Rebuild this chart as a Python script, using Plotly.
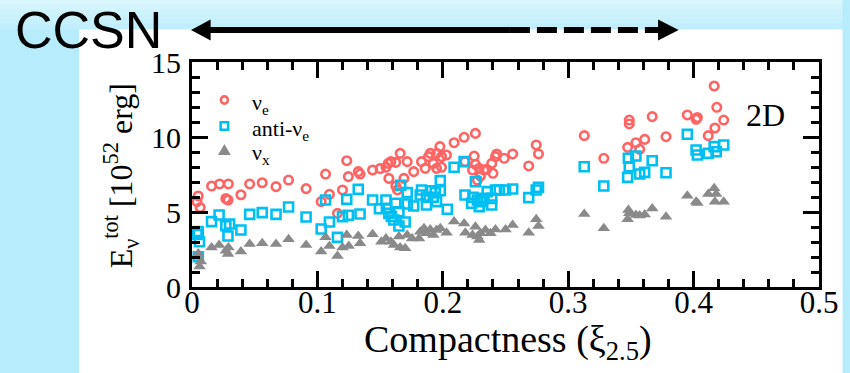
import plotly.graph_objects as go

# ---------------- data ----------------
ve_xi = [0.005, 0.004, 0.0065, 0.0156, 0.022, 0.029, 0.027, 0.0287, 0.039, 0.046,
         0.056, 0.067, 0.077, 0.091, 0.103, 0.1065, 0.1096, 0.116, 0.12, 0.1234,
         0.1247, 0.1326, 0.134, 0.144, 0.150, 0.1547, 0.1565, 0.1586, 0.1625, 0.166,
         0.1716, 0.1768, 0.157, 0.1625, 0.1638, 0.169, 0.183, 0.186, 0.1886, 0.19,
         0.1924, 0.195, 0.1977, 0.199, 0.2029, 0.195, 0.199, 0.209, 0.217, 0.226,
         0.2177, 0.225, 0.226, 0.2237, 0.229, 0.2276, 0.230, 0.2328, 0.235, 0.239,
         0.240, 0.242, 0.243, 0.249, 0.2557, 0.2685, 0.2745, 0.2763, 0.3128, 0.3284,
         0.3474, 0.3487, 0.3487, 0.354, 0.357, 0.361, 0.367, 0.378, 0.395, 0.402,
         0.403, 0.4117, 0.4164, 0.417, 0.4185, 0.424]
ve_E = [6.07, 5.69, 5.3, 6.73, 6.87, 6.87, 5.9, 5.8, 6.15, 6.87,
        6.95, 6.69, 7.13, 6.56, 5.69, 7.53, 6.18, 4.91, 6.47, 8.42,
        7.36, 7.69, 7.53, 7.8, 7.89, 7.98, 8.24, 8.36, 8.31, 8.91,
        8.36, 7.69, 7.24, 6.73, 6.47, 7.24, 8.36, 7.91, 8.69, 8.91,
        8.24, 8.91, 9.36, 8.69, 8.8, 7.91, 7.98, 9.62, 9.98, 10.24,
        8.36, 8.73, 8.18, 7.8, 7.91, 7.13, 7.4, 7.8, 7.85, 8.24,
        7.58, 8.69, 8.87, 8.58, 8.87, 8.07, 9.47, 8.87, 10.09, 8.58,
        9.31, 10.87, 11.13, 9.62, 9.18, 9.84, 11.36, 10.02, 11.47, 11.18,
        11.3, 10.09, 13.4, 10.6, 11.98, 11.13]

ave_xi = [0.005, 0.004, 0.006, 0.005, 0.0156, 0.0216, 0.027, 0.030, 0.0287, 0.039,
          0.046, 0.056, 0.067, 0.077, 0.091, 0.103, 0.1065, 0.1096, 0.116, 0.12,
          0.1234, 0.1247, 0.1326, 0.134, 0.144, 0.1495, 0.1547, 0.155, 0.157, 0.159,
          0.1625, 0.165, 0.161, 0.165, 0.170, 0.1664, 0.1716, 0.1716, 0.1768, 0.182,
          0.183, 0.187, 0.187, 0.191, 0.1924, 0.195, 0.198, 0.198, 0.194, 0.2036,
          0.209, 0.217, 0.2177, 0.226, 0.224, 0.223, 0.2276, 0.229, 0.230, 0.2328,
          0.2354, 0.239, 0.239, 0.242, 0.245, 0.25, 0.2557, 0.2685, 0.2745, 0.2763,
          0.3128, 0.3284, 0.3474, 0.348, 0.3487, 0.354, 0.357, 0.361, 0.367, 0.378,
          0.395, 0.402, 0.403, 0.4117, 0.4164, 0.418, 0.424]
ave_E = [3.69, 3.5, 3.02, 2.02, 4.36, 4.8, 4.09, 4.2, 3.4, 3.8,
         4.84, 4.96, 4.84, 5.33, 4.67, 3.87, 5.8, 4.33, 3.31, 4.69,
         5.84, 4.78, 6.51, 4.87, 5.8, 5.22, 5.8, 5.25, 4.91, 4.7,
         5.58, 5.02, 4.47, 4.07, 4.33, 6.78, 6.29, 5.53, 5.4, 6.13,
         6.47, 5.98, 5.47, 6.42, 5.98, 5.69, 7.09, 6.42, 6.3, 5.18,
         7.98, 8.36, 6.13, 7.02, 5.98, 5.58, 5.8, 5.36, 5.69, 5.91,
         6.36, 5.91, 5.47, 6.47, 6.47, 6.47, 6.53, 5.96, 6.47, 6.64,
         8.02, 6.73, 7.31, 8.58, 8.02, 8.73, 7.53, 7.64, 8.42, 7.62,
         10.18, 9.13, 8.8, 8.91, 9.36, 9.02, 9.47]

vx_xi = [0.005, 0.005, 0.006, 0.007, 0.0156, 0.0216, 0.027, 0.029, 0.0287, 0.039,
         0.046, 0.056, 0.067, 0.077, 0.091, 0.103, 0.1065, 0.1096, 0.116, 0.12,
         0.1234, 0.125, 0.1326, 0.134, 0.144, 0.151, 0.1547, 0.1586, 0.161, 0.165,
         0.166, 0.170, 0.1716, 0.1755, 0.181, 0.182, 0.185, 0.187, 0.19, 0.1924,
         0.195, 0.198, 0.203, 0.209, 0.217, 0.218, 0.226, 0.2237, 0.2276, 0.229,
         0.230, 0.234, 0.238, 0.242, 0.25, 0.2557, 0.2685, 0.2745, 0.2763, 0.3128,
         0.3284, 0.3474, 0.348, 0.3487, 0.354, 0.357, 0.361, 0.367, 0.378, 0.395,
         0.402, 0.403, 0.4117, 0.4164, 0.417, 0.418, 0.424]
vx_E = [2.24, 2.0, 1.36, 1.7, 2.64, 2.8, 2.42, 2.64, 2.2, 2.36,
        2.87, 2.91, 2.87, 3.18, 2.8, 2.36, 3.31, 2.73, 2.07, 2.64,
        3.47, 2.73, 3.4, 2.91, 3.51, 3.02, 3.24, 3.02, 2.8, 3.36,
        2.64, 2.58, 3.47, 3.24, 3.24, 3.69, 3.91, 3.58, 3.84, 3.47,
        3.8, 3.91, 3.62, 4.36, 4.24, 3.62, 4.02, 3.47, 3.36, 3.13,
        3.58, 3.8, 3.58, 3.84, 3.84, 4.13, 3.62, 4.51, 4.07, 4.87,
        3.91, 4.51, 5.13, 4.91, 4.8, 4.76, 4.84, 5.24, 4.69, 6.09,
        5.69, 5.6, 6.2, 6.58, 5.69, 6.2, 5.69]

series_names = ["ν<sub>e</sub>", "anti-ν<sub>e</sub>", "ν<sub>x</sub>"]
series_colors = ["#ff6464", "#00bff3", "#8a8a8a"]
x_tickvals = [0, 0.1, 0.2, 0.3, 0.4, 0.5]
x_ticktext = ["0", "0.1", "0.2", "0.3", "0.4", "0.5"]
y_tickvals = [0, 5, 10, 15]
y_ticktext = ["0", "5", "10", "15"]

# ---------------- layout helpers ----------------
W, H = 850, 373
L, R, T, B = 192, 19, 62, 86
PW, PH = W - L - R, H - T - B


def px(x):
    return (x - L) / PW


def py(y):
    return (H - B - y) / PH


SERIF = "Liberation Serif"

fig = go.Figure()
fig.add_trace(go.Scatter(x=ve_xi, y=ve_E, mode="markers", name=series_names[0],
                         marker=dict(symbol="circle-open", size=8.5, color=series_colors[0],
                                     line=dict(width=2.6, color=series_colors[0]))))
fig.add_trace(go.Scatter(x=ave_xi, y=ave_E, mode="markers", name=series_names[1],
                         marker=dict(symbol="square-open", size=9, color=series_colors[1],
                                     line=dict(width=2.6, color=series_colors[1]))))
fig.add_trace(go.Scatter(x=vx_xi, y=vx_E, mode="markers", name=series_names[2],
                         marker=dict(symbol="triangle-up", size=11, color=series_colors[2],
                                     line=dict(width=0))))

axis_common = dict(showline=True, linewidth=3, linecolor="black", mirror="ticks",
                   ticks="inside", ticklen=16, tickwidth=3, tickcolor="black",
                   showgrid=False, zeroline=False, ticklabeloverflow="allow")

fig.update_xaxes(range=[0, 0.5], tickvals=x_tickvals, ticktext=x_ticktext,
                 tickfont=dict(family=SERIF, size=31, color="black"),
                 ticklabelstandoff=-14,
                 minor=dict(ticks="inside", dtick=0.02, ticklen=8, tickwidth=2.5,
                            tickcolor="black", showgrid=False),
                 **axis_common)
fig.update_yaxes(range=[0, 15], tickvals=y_tickvals, ticktext=y_ticktext,
                 tickfont=dict(family=SERIF, size=30, color="black"),
                 ticklabelstandoff=2,
                 minor=dict(ticks="inside", dtick=1, ticklen=8, tickwidth=2.5,
                            tickcolor="black", showgrid=False),
                 **axis_common)

shapes = []
# white slide panel
shapes.append(dict(type="rect", xref="paper", yref="paper", layer="below",
                   x0=px(77), x1=px(W + 5), y0=py(29), y1=py(H + 5),
                   fillcolor="white", line=dict(width=0)))
# top gradient bands
top_cols = ["#d9f6fd", "#d4f4fd", "#cff3fd", "#caf1fc", "#c5f0fc", "#c1eefc"]
band = 29 / len(top_cols)
for i, c in enumerate(top_cols):
    shapes.append(dict(type="rect", xref="paper", yref="paper", layer="below",
                       x0=px(-5), x1=px(W + 5), y0=py(i * band - (1 if i == 0 else 0)),
                       y1=py((i + 1) * band + 0.5),
                       fillcolor=c, line=dict(width=0)))
# arrows
AY = 30
shapes.append(dict(type="line", xref="paper", yref="paper", layer="above",
                   x0=px(205), x1=px(516), y0=py(AY), y1=py(AY),
                   line=dict(color="black", width=6)))
shapes.append(dict(type="line", xref="paper", yref="paper", layer="above",
                   x0=px(516), x1=px(672), y0=py(AY), y1=py(AY),
                   line=dict(color="black", width=6, dash="20px,7px")))


def tri(xtip, xbase, yc, half):
    return (f"M {px(xtip)} {py(yc)} L {px(xbase)} {py(yc - half)} "
            f"L {px(xbase)} {py(yc + half)} Z")


shapes.append(dict(type="path", xref="paper", yref="paper", layer="above",
                   path=tri(191, 211, AY, 10.5), fillcolor="black", line=dict(width=0)))
shapes.append(dict(type="path", xref="paper", yref="paper", layer="above",
                   path=tri(688, 667, AY, 10.5), fillcolor="black", line=dict(width=0)))

# hand-built legend symbols
LX = 225
LY = [100, 126, 150]
r = 3.6
shapes.append(dict(type="circle", xref="paper", yref="paper", layer="above",
                   x0=px(LX - r), x1=px(LX + r), y0=py(LY[0] - r), y1=py(LY[0] + r),
                   line=dict(color=series_colors[0], width=2.6)))
s = 3.8
shapes.append(dict(type="rect", xref="paper", yref="paper", layer="above",
                   x0=px(LX - s), x1=px(LX + s), y0=py(LY[1] - s), y1=py(LY[1] + s),
                   line=dict(color=series_colors[1], width=2.6)))
shapes.append(dict(type="path", xref="paper", yref="paper", layer="above",
                   path=(f"M {px(LX)} {py(LY[2] - 6)} L {px(LX + 6.5)} {py(LY[2] + 5)} "
                         f"L {px(LX - 6.5)} {py(LY[2] + 5)} Z"),
                   fillcolor=series_colors[2], line=dict(width=0)))

annotations = [
    dict(text="CCSN", xref="paper", yref="paper", x=px(10), y=py(30),
         xanchor="left", yanchor="middle", showarrow=False,
         font=dict(family="Liberation Sans", size=52, color="black")),
    dict(text="2D", xref="paper", yref="paper", x=px(776), y=py(115),
         xanchor="center", yanchor="middle", showarrow=False,
         font=dict(family=SERIF, size=32, color="black")),
    dict(text="Compactness (ξ<sub>2.5</sub>)", xref="paper", yref="paper",
         x=px(514), y=py(342), xanchor="center", yanchor="middle", showarrow=False,
         font=dict(family=SERIF, size=38, color="black")),
    dict(text="E<sub>ν</sub><sup>tot</sup> [10<sup>52</sup> erg]", xref="paper",
         yref="paper", x=px(119), y=py(176), xanchor="center", yanchor="middle",
         textangle=-90, showarrow=False,
         font=dict(family=SERIF, size=32, color="black")),
]
for name, yy in zip(series_names, LY):
    annotations.append(dict(text=name, xref="paper", yref="paper", x=px(251), y=py(yy + 4),
                            xanchor="left", yanchor="middle", showarrow=False,
                            font=dict(family=SERIF, size=22, color="black")))

fig.update_layout(
    width=W, height=H,
    margin=dict(l=L, r=R, t=T, b=B, pad=0),
    paper_bgcolor="#b6ecfc", plot_bgcolor="white",
    font=dict(family=SERIF, color="black"),
    shapes=shapes, annotations=annotations,
    showlegend=False,
)

fig.write_html("out.html")
